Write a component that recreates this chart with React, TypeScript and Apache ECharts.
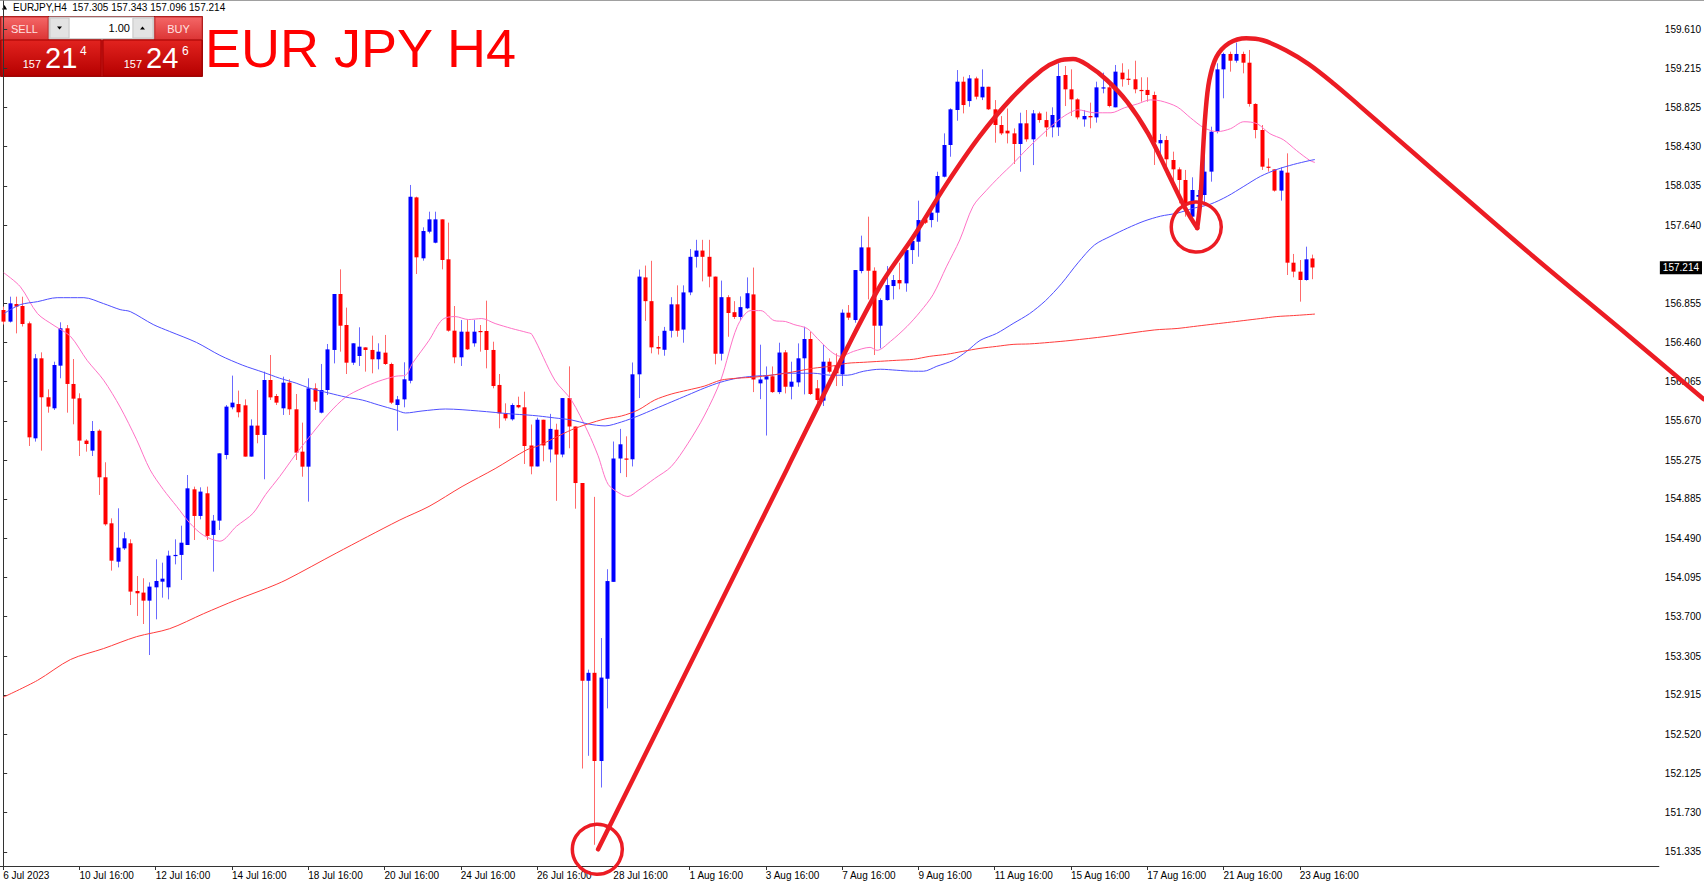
import React, { useEffect, useRef } from "react";
import * as echarts from "echarts";

const FONT = '"Liberation Sans", Arial, sans-serif';

// ---- axes ----
const slotCount = 261; // bar slots across the plot (data + empty right margin)
const labelStep = 12;
const xTickLabels = [
  "6 Jul 2023", "10 Jul 16:00", "12 Jul 16:00", "14 Jul 16:00", "18 Jul 16:00", "20 Jul 16:00",
  "24 Jul 16:00", "26 Jul 16:00", "28 Jul 16:00", "1 Aug 16:00", "3 Aug 16:00", "7 Aug 16:00",
  "9 Aug 16:00", "11 Aug 16:00", "15 Aug 16:00", "17 Aug 16:00", "21 Aug 16:00", "23 Aug 16:00",
];
const yTickValues = [
  159.61, 159.215, 158.825, 158.43, 158.035, 157.64, 156.855, 156.46, 156.065, 155.67, 155.275,
  154.885, 154.49, 154.095, 153.7, 153.305, 152.915, 152.52, 152.125, 151.73, 151.335,
];
const yMin = 151.1924;
const yMax = 159.8947;
const lastPrice = 157.214;
const headerText = "EURJPY,H4  157.305 157.343 157.096 157.214";

// ---- candles (H4) ----
const opens = [
  156.786,156.669,156.846,156.826,156.652,155.495,156.300,155.908,155.797,156.226,
  156.602,156.042,155.898,155.472,155.371,155.572,155.103,154.640,154.254,154.388,
  154.439,153.959,153.943,153.862,153.996,154.053,153.996,154.311,154.322,154.422,
  154.982,154.714,154.942,154.523,154.667,155.327,155.807,155.840,155.827,155.311,
  155.623,155.529,156.082,155.921,155.797,156.055,155.787,155.361,155.210,155.998,
  155.753,155.981,156.384,156.947,156.635,156.256,156.323,156.410,156.384,156.290,
  156.357,156.243,155.830,155.887,156.075,157.919,157.306,157.574,157.463,157.698,
  157.296,156.578,156.310,156.568,156.451,156.575,156.575,156.384,156.032,155.746,
  155.686,155.830,155.807,155.423,155.212,155.682,155.383,155.582,155.332,155.900,
  155.614,155.045,153.056,153.136,152.249,153.076,154.051,155.292,155.292,155.284,
  156.139,157.114,156.875,156.414,156.386,156.577,156.843,156.589,156.963,157.321,
  157.384,157.321,157.122,156.346,156.915,156.764,156.716,156.803,156.943,156.048,
  156.087,156.119,155.960,156.360,156.014,156.058,156.300,156.494,155.998,155.874,
  156.266,156.232,156.139,156.759,156.685,157.178,157.416,157.181,156.628,156.886,
  157.027,157.088,157.054,157.389,157.473,157.698,157.691,157.765,158.127,158.446,
  158.798,159.083,158.888,159.116,158.925,159.032,158.805,158.647,158.590,158.563,
  158.456,158.664,158.503,158.764,158.697,158.624,158.624,159.150,159.006,158.905,
  158.704,158.738,158.724,159.016,159.026,158.825,159.174,159.113,159.107,159.000,
  159.000,158.949,158.463,158.496,158.295,158.201,158.094,157.725,157.926,157.943,
  158.178,158.580,159.207,159.362,159.294,159.362,159.274,158.859,158.597,158.228,
  158.201,157.987,158.168,157.262,157.172,157.088,157.305,
];
const highs = [
  156.820,156.920,156.920,156.920,156.670,156.343,156.360,155.988,156.266,156.662,
  156.635,156.293,155.948,155.485,155.669,155.586,155.254,154.690,154.791,154.550,
  154.479,154.110,154.087,154.046,154.278,154.244,154.365,154.479,154.616,155.126,
  155.009,155.002,155.009,154.724,155.344,155.830,156.126,155.975,155.887,155.686,
  155.981,156.166,156.333,155.941,156.115,156.089,155.941,155.653,156.099,156.048,
  156.243,156.444,156.947,157.195,156.810,156.451,156.612,156.410,156.528,156.451,
  156.535,156.256,155.921,156.260,158.044,157.926,157.618,157.775,157.775,157.698,
  157.665,156.826,156.685,156.685,156.685,156.635,156.880,156.467,156.142,155.847,
  155.847,155.914,155.964,155.634,155.702,155.682,155.741,155.642,155.900,156.219,
  155.614,155.045,153.168,154.906,153.486,154.178,155.463,155.590,155.515,156.258,
  157.193,157.233,157.281,156.525,156.616,156.915,157.034,157.034,157.400,157.492,
  157.492,157.492,157.122,157.082,156.935,156.875,156.923,157.114,157.213,156.437,
  156.218,156.218,156.457,156.383,156.266,156.450,156.618,156.568,156.082,156.434,
  156.300,156.350,156.792,156.836,157.188,157.534,157.725,157.215,156.903,157.228,
  157.138,157.262,157.423,157.524,157.886,157.720,157.842,158.177,158.563,158.815,
  159.200,159.133,159.150,159.133,159.207,159.032,158.898,158.737,158.813,158.613,
  158.771,158.798,158.798,158.781,158.781,158.825,159.268,159.241,159.207,158.916,
  158.798,158.872,159.083,159.174,159.083,159.251,159.268,159.207,159.294,159.127,
  159.127,158.983,158.557,158.537,158.379,158.221,158.195,158.121,157.993,158.379,
  158.630,159.268,159.375,159.385,159.476,159.385,159.402,158.866,158.647,158.312,
  158.201,158.221,158.362,157.350,157.289,157.423,157.343,
];
const lows = [
  156.640,156.660,156.551,156.620,155.418,155.462,155.371,155.753,155.780,156.099,
  155.753,155.636,155.317,155.361,155.317,154.925,154.616,154.164,154.197,154.372,
  153.818,153.708,153.627,153.315,153.674,153.892,153.875,154.227,154.070,154.422,
  154.472,154.680,154.472,154.154,154.573,155.284,155.787,155.706,155.311,155.311,
  155.445,155.083,155.881,155.830,155.730,155.730,155.277,155.109,154.858,155.780,
  155.746,155.931,156.249,156.367,156.142,156.233,156.223,156.166,156.149,156.189,
  156.233,155.840,155.572,155.807,156.048,157.148,157.282,157.557,157.457,157.195,
  156.568,156.250,156.223,156.384,156.417,156.367,156.199,155.998,155.596,155.673,
  155.673,155.797,155.237,155.133,155.212,155.264,155.252,154.866,155.304,155.395,
  154.787,152.173,152.301,151.406,151.982,152.778,154.051,155.145,155.105,155.212,
  155.900,156.676,156.350,156.338,156.326,156.509,156.517,156.457,156.935,157.213,
  157.074,157.014,156.239,156.278,156.517,156.696,156.684,156.795,155.960,155.889,
  155.523,155.952,155.940,155.947,155.887,156.014,155.937,155.931,155.847,155.820,
  156.149,156.021,156.021,156.685,156.658,157.155,156.893,156.333,156.400,156.880,
  156.893,156.994,156.970,157.249,157.322,157.651,157.617,157.674,158.120,158.328,
  158.690,158.764,158.831,158.905,158.898,158.798,158.469,158.546,158.462,158.255,
  158.177,158.479,158.244,158.670,158.530,158.523,158.537,158.838,158.738,158.704,
  158.630,158.614,158.671,158.966,158.825,158.825,159.033,159.050,158.966,158.882,
  158.882,158.245,158.278,158.228,158.060,157.859,157.725,157.698,157.859,157.859,
  158.077,158.563,158.916,159.184,159.274,159.167,158.832,158.513,158.195,158.178,
  157.977,157.886,157.138,157.115,156.870,157.081,157.096,
];
const closes = [
  156.669,156.853,156.820,156.645,155.505,156.300,155.908,155.814,156.233,156.602,
  156.042,155.894,155.472,155.438,155.569,155.103,154.630,154.264,154.395,154.489,
  153.953,153.936,153.862,154.003,154.060,154.083,154.315,154.322,154.445,154.992,
  154.714,154.959,154.513,154.667,155.344,155.814,155.854,155.757,155.311,155.623,
  155.529,156.082,155.907,155.854,156.055,155.787,155.351,155.210,155.998,155.864,
  155.981,156.390,156.947,156.628,156.256,156.451,156.417,156.384,156.290,156.367,
  156.243,155.854,155.887,156.089,157.926,157.316,157.581,157.698,157.698,157.289,
  156.578,156.310,156.568,156.390,156.568,156.565,156.384,156.021,155.746,155.696,
  155.830,155.807,155.418,155.212,155.682,155.423,155.590,155.332,155.900,155.614,
  155.045,153.056,153.136,152.249,153.088,154.059,155.292,155.435,155.284,156.139,
  157.122,156.875,156.410,156.398,156.577,156.843,156.577,156.963,157.321,157.384,
  157.321,157.122,156.346,156.915,156.756,156.716,156.815,156.955,156.087,156.087,
  156.119,155.960,156.358,156.014,156.065,156.300,156.494,155.941,155.880,156.266,
  156.165,156.149,156.759,156.709,157.188,157.416,157.181,156.628,156.886,157.037,
  157.088,157.054,157.389,157.480,157.691,157.664,157.765,158.134,158.446,158.805,
  159.083,158.848,159.116,158.932,159.032,158.805,158.647,158.563,158.563,158.456,
  158.664,158.503,158.764,158.697,158.623,158.748,159.140,159.006,158.905,158.724,
  158.738,158.724,159.026,159.026,158.838,159.184,159.107,159.107,159.006,158.989,
  158.949,158.470,158.496,158.302,158.201,158.094,157.842,157.993,157.943,158.178,
  158.580,159.207,159.362,159.294,159.362,159.274,158.859,158.597,158.228,158.221,
  157.987,158.188,157.262,157.172,157.088,157.296,157.214,
];

// ---- moving averages: [bar position, price] ----
const maPink = [
  [0.1,157.16],[2.7,157.02],[5.4,156.75],[8.0,156.63],[10.6,156.52],[13.2,156.28],[15.8,156.08],
  [18.4,155.81],[21.0,155.48],[23.1,155.18],[25.2,154.98],[27.3,154.81],[29.4,154.64],[31.5,154.52],
  [34.1,154.46],[36.7,154.61],[39.3,154.74],[41.3,154.93],[43.5,155.11],[46.1,155.34],[48.7,155.55],
  [51.3,155.75],[53.9,155.91],[56.5,156.00],[59.1,156.07],[61.8,156.12],[63.3,156.13],[64.4,156.25],
  [67.0,156.48],[69.1,156.69],[71.1,156.72],[73.2,156.69],[75.3,156.70],[77.4,156.65],[80.0,156.60],
  [82.4,156.56],[83.2,156.54],[86.8,156.08],[89.4,155.88],[92.0,155.56],[93.6,155.32],[95.2,155.03],
  [97.3,154.93],[98.3,154.91],[99.9,154.97],[102.5,155.09],[105.1,155.21],[107.7,155.44],[110.3,155.72],
  [112.9,156.08],[115.5,156.62],[117.6,156.78],[119.2,156.78],[121.3,156.68],[123.1,156.67],
  [124.4,156.64],[126.5,156.60],[128.1,156.50],[130.2,156.37],[131.7,156.32],[133.8,156.37],
  [136.4,156.41],[137.5,156.38],[139.6,156.47],[142.2,156.62],[144.3,156.77],[146.3,156.94],
  [148.4,157.22],[150.5,157.49],[152.6,157.83],[154.7,157.99],[156.8,158.13],[158.9,158.26],
  [161.0,158.40],[163.1,158.53],[165.0,158.64],[167.0,158.74],[169.1,158.80],[171.7,158.77],
  [174.3,158.77],[176.4,158.82],[178.5,158.86],[180.5,158.90],[182.1,158.89],[184.7,158.83],
  [186.8,158.72],[188.9,158.62],[191.0,158.58],[193.1,158.61],[195.2,158.68],[197.3,158.66],
  [199.3,158.56],[201.4,158.50],[203.5,158.39],[205.6,158.29],[206.4,158.27],
];
const maBlue = [
  [0.1,156.75],[2.7,156.84],[5.4,156.87],[8.5,156.91],[12.7,156.91],[15.8,156.85],[18.4,156.79],
  [20.0,156.77],[23.6,156.64],[26.2,156.57],[30.4,156.46],[34.1,156.33],[37.7,156.23],[40.9,156.16],
  [43.5,156.10],[46.1,156.05],[48.2,156.00],[51.3,155.95],[53.9,155.91],[56.5,155.88],[59.1,155.83],
  [61.8,155.78],[63.3,155.75],[65.9,155.77],[69.6,155.79],[74.8,155.77],[80.0,155.74],[82.4,155.73],
  [84.2,155.72],[86.8,155.70],[89.4,155.68],[92.0,155.64],[94.7,155.62],[97.3,155.66],[99.9,155.72],
  [102.5,155.79],[105.1,155.86],[107.7,155.93],[110.3,156.00],[112.9,156.06],[115.5,156.10],
  [118.1,156.12],[120.8,156.13],[123.1,156.15],[124.9,156.15],[127.5,156.15],[130.2,156.13],
  [132.8,156.13],[135.4,156.17],[138.0,156.19],[140.6,156.18],[143.2,156.17],[144.8,156.17],
  [146.9,156.22],[149.5,156.28],[151.6,156.37],[153.7,156.48],[156.3,156.55],[158.9,156.65],
  [161.5,156.75],[164.0,156.88],[166.5,157.05],[169.1,157.26],[171.7,157.44],[174.3,157.53],
  [176.9,157.61],[179.5,157.68],[182.1,157.73],[184.7,157.76],[187.3,157.81],[189.9,157.85],
  [192.6,157.93],[195.2,158.03],[197.8,158.13],[200.4,158.20],[203.0,158.25],[205.6,158.29],
  [206.4,158.30],
];
const maRed = [
  [0,152.89],[5.4,153.06],[10.6,153.27],[15.8,153.38],[21.0,153.50],[26.2,153.58],[31.5,153.73],
  [36.7,153.87],[41.6,153.99],[44.5,154.07],[52.4,154.34],[62.3,154.67],[67.0,154.81],[72.2,155.01],
  [77.4,155.19],[82.4,155.38],[84.2,155.42],[86.8,155.50],[89.4,155.58],[92.0,155.64],[94.7,155.69],
  [97.3,155.72],[99.9,155.78],[102.5,155.88],[105.1,155.94],[107.7,155.98],[110.3,156.02],
  [112.9,156.08],[115.5,156.10],[118.1,156.11],[120.8,156.13],[123.1,156.15],[127.5,156.20],
  [130.2,156.22],[132.8,156.25],[135.4,156.26],[138.0,156.27],[140.6,156.28],[143.2,156.29],
  [145.8,156.32],[148.4,156.34],[151.0,156.37],[153.7,156.40],[156.3,156.42],[158.9,156.44],
  [161.5,156.445],[164.6,156.46],[168.0,156.48],[173.5,156.52],[181.1,156.585],[184.7,156.60],
  [187.3,156.62],[189.9,156.64],[192.6,156.66],[195.2,156.68],[197.8,156.70],[200.4,156.72],
  [203.0,156.73],[206.4,156.745],
];

// ---- hand-drawn annotation: [bar position, price] ----
const annotationRise = [
  [93.42,151.36],[123.11,155.19],[132.66,156.42],[138.0,157.06],[143.0,157.53],[148.2,158.06],
  [153.3,158.53],[158.4,158.92],[163.1,159.20],[165.6,159.29],[168.0,159.31],[170.5,159.24],
  [173.3,159.10],[176.5,158.88],[179.8,158.56],[183.0,158.15],[185.7,157.80],[187.5,157.61],
];
const annotationFall = [
  [187.5,157.61],[188.0,157.89],[188.3,158.26],[188.8,158.77],[189.4,159.10],[190.5,159.33],
  [192.5,159.47],[195.2,159.52],[197.8,159.50],[201.4,159.40],[205.0,159.26],[209.0,159.06],
  [213.0,158.84],[218.0,158.56],[225.0,158.17],[240.0,157.34],[255.0,156.54],[267.0,155.89],
];
const annotationCircles = [[93.3,151.36],[187.35,157.62]];

// H4 bar times (weekdays only)
function buildBarTimes(count: number): string[] {
  const out: string[] = [];
  let t = Date.UTC(2023, 6, 6, 16);
  while (out.length < count) {
    const d = new Date(t);
    const day = d.getUTCDay();
    if (day !== 0 && day !== 6) {
      const pad = (n: number) => String(n).padStart(2, "0");
      out.push(`${d.getUTCFullYear()}.${pad(d.getUTCMonth() + 1)}.${pad(d.getUTCDate())} ${pad(d.getUTCHours())}:00`);
    }
    t += 4 * 3600 * 1000;
  }
  return out;
}

const ANNOT = "#ec1c24";
// plot geometry (px)
const GRID_LEFT = -4;
const GRID_RIGHT = 42;
const GRID_TOP = 1;
const GRID_BOTTOM = 17;
const CHART_W = 1704;
const plotW = CHART_W - GRID_LEFT - GRID_RIGHT;
const fullW = CHART_W - GRID_LEFT;
// overlay grid spans the full width with the same bar scale
const overlayMax = -0.5 + (fullW * slotCount) / plotW;

function renderCandle(params: any, api: any) {
  const idx = api.value(0);
  const o = api.value(1);
  const c = api.value(2);
  const l = api.value(3);
  const h = api.value(4);
  const pO = api.coord([idx, o]);
  const pC = api.coord([idx, c]);
  const pL = api.coord([idx, l]);
  const pH = api.coord([idx, h]);
  const bull = c > o;
  const x = Math.round(pO[0]);
  const top = Math.min(pO[1], pC[1]);
  const hgt = Math.max(1.2, Math.abs(pO[1] - pC[1]));
  return {
    type: "group",
    children: [
      {
        type: "line",
        shape: { x1: x + 0.5, y1: pH[1], x2: x + 0.5, y2: pL[1] },
        style: { stroke: bull ? "#6a6aff" : "#ff6a6a", lineWidth: 1 },
      },
      {
        type: "rect",
        shape: { x: x - 1.5, y: top, width: 4, height: hgt },
        style: { fill: bull ? "#0000ff" : "#ff0000" },
      },
    ],
  };
}

function buildGraphics() {
  const btnFill = {
    type: "linear", x: 0, y: 0, x2: 0, y2: 1,
    colorStops: [{ offset: 0, color: "#f46767" }, { offset: 1, color: "#dc3434" }],
  };
  const priceFill = {
    type: "linear", x: 0, y: 0, x2: 0, y2: 1,
    colorStops: [{ offset: 0, color: "#e2231f" }, { offset: 1, color: "#b50000" }],
  };
  const txt = (text: string, x: number, y: number, size: number, fill: string, align = "left") => ({
    type: "text",
    style: { text, x, y, fill, align, verticalAlign: "middle", font: `${size}px ${FONT}` },
  });
  return [
    { type: "line", shape: { x1: 0, y1: 0.5, x2: 1704, y2: 0.5 }, style: { stroke: "#a0a0a0", lineWidth: 1 } },
    { type: "polygon", shape: { points: [[2, 9.5], [4.5, 5], [7, 9.5]] }, style: { fill: "#000" } },
    txt(headerText, 13, 7.5, 10, "#000"),
    // one-click trading panel
    { type: "rect", shape: { x: 0.5, y: 16.5, width: 202, height: 60 }, style: { fill: "#c81818", stroke: "#9a0e0e", lineWidth: 1 } },
    { type: "rect", shape: { x: 1, y: 17, width: 47, height: 23 }, style: { fill: btnFill, stroke: "#c83030", lineWidth: 1 } },
    txt("SELL", 24.5, 28.5, 11, "#ffe2e2", "center"),
    { type: "rect", shape: { x: 49, y: 17, width: 105, height: 22 }, style: { fill: "#efefef", stroke: "#b4b4b4", lineWidth: 1 } },
    { type: "rect", shape: { x: 50, y: 18, width: 19, height: 20 }, style: { fill: "#e3e3e3", stroke: "#c9c9c9", lineWidth: 1 } },
    { type: "polygon", shape: { points: [[57, 26.5], [62, 26.5], [59.5, 29.5]] }, style: { fill: "#000" } },
    { type: "rect", shape: { x: 70, y: 18, width: 62, height: 20 }, style: { fill: "#ffffff" } },
    txt("1.00", 130, 28, 11, "#000", "right"),
    { type: "rect", shape: { x: 133, y: 18, width: 20, height: 20 }, style: { fill: "#e3e3e3", stroke: "#c9c9c9", lineWidth: 1 } },
    { type: "polygon", shape: { points: [[140, 29.5], [145, 29.5], [142.5, 26.5]] }, style: { fill: "#000" } },
    { type: "rect", shape: { x: 155, y: 17, width: 47, height: 23 }, style: { fill: btnFill, stroke: "#c83030", lineWidth: 1 } },
    txt("BUY", 178.5, 28.5, 11, "#ffe2e2", "center"),
    { type: "rect", shape: { x: 1, y: 40, width: 100, height: 36 }, style: { fill: priceFill, stroke: "#a30000", lineWidth: 1 } },
    { type: "rect", shape: { x: 103, y: 40, width: 99, height: 36 }, style: { fill: priceFill, stroke: "#a30000", lineWidth: 1 } },
    txt("157", 41, 64, 11, "#ffffff", "right"),
    txt("21", 45, 57.5, 29, "#ffffff"),
    txt("4", 80, 50.5, 12, "#ffffff"),
    txt("157", 142, 64, 11, "#ffffff", "right"),
    txt("24", 146, 57.5, 29, "#ffffff"),
    txt("6", 182, 50.5, 12, "#ffffff"),
    // title
    txt("EUR JPY H4", 205, 48, 54, "#ff0000"),
  ];
}

export default function App() {
  const ref = useRef<HTMLDivElement>(null);

  useEffect(() => {
    document.body.style.margin = "0";
    if (!ref.current) return;
    const chart = echarts.init(ref.current, null, { renderer: "svg" });
    const categories = buildBarTimes(slotCount);
    const candleRows = opens.map((o, i) => [i, o, closes[i], lows[i], highs[i]]);
    const isLabelSlot = (index: number) => index % labelStep === 0 && index / labelStep < xTickLabels.length;

    const maLine = (name: string, data: number[][], color: string, extra: any = {}) => ({
      type: "line",
      name,
      xAxisIndex: 1,
      yAxisIndex: 0,
      data,
      smooth: 0.3,
      symbol: "none",
      silent: true,
      lineStyle: { color, width: 1 },
      z: 3,
      ...extra,
    });
    const annotLine = (name: string, data: number[][], smooth: number) => ({
      type: "line",
      name,
      xAxisIndex: 2,
      yAxisIndex: 1,
      data,
      smooth,
      symbol: "none",
      clip: false,
      silent: true,
      lineStyle: { color: ANNOT, width: 4.5, cap: "round", join: "round" },
      z: 6,
    });

    chart.setOption({
      animation: false,
      backgroundColor: "#ffffff",
      textStyle: { fontFamily: FONT },
      grid: [
        { left: GRID_LEFT, right: GRID_RIGHT, top: GRID_TOP, bottom: GRID_BOTTOM, containLabel: false },
        { left: GRID_LEFT, right: 0, top: GRID_TOP, bottom: GRID_BOTTOM, containLabel: false },
      ],
      xAxis: [
        {
          type: "category",
          gridIndex: 0,
          data: categories,
          boundaryGap: true,
          axisLine: { show: true, lineStyle: { color: "#333", width: 1 } },
          axisTick: {
            show: true,
            alignWithLabel: true,
            length: 4,
            interval: (index: number) => isLabelSlot(index),
            lineStyle: { color: "#333" },
          },
          axisLabel: {
            show: true,
            interval: (index: number) => isLabelSlot(index),
            formatter: (_v: string, index: number) => xTickLabels[Math.floor(index / labelStep)] ?? "",
            align: "left",
            margin: 4,
            fontSize: 10,
            fontFamily: FONT,
            color: "#000",
          },
          splitLine: { show: false },
        },
        { type: "value", gridIndex: 0, min: -0.5, max: slotCount - 0.5, show: false },
        { type: "value", gridIndex: 1, min: -0.5, max: overlayMax, show: false },
      ],
      yAxis: [
        {
          type: "value",
          gridIndex: 0,
          position: "right",
          min: yMin,
          max: yMax,
          axisLine: { show: true, lineStyle: { color: "#333", width: 1 } },
          axisTick: { show: true, length: 4, customValues: yTickValues, lineStyle: { color: "#333" } },
          axisLabel: {
            show: true,
            customValues: yTickValues,
            formatter: (v: number) => v.toFixed(3),
            margin: 6,
            fontSize: 10,
            fontFamily: FONT,
            color: "#000",
          },
          splitLine: { show: false },
        },
        { type: "value", gridIndex: 1, min: yMin, max: yMax, show: false },
      ],
      series: [
        {
          type: "custom",
          name: "EURJPY,H4",
          xAxisIndex: 0,
          yAxisIndex: 0,
          renderItem: renderCandle,
          data: candleRows,
          encode: { x: 0, y: [1, 2, 3, 4] },
          silent: true,
          z: 2,
        },
        maLine("MA fast", maPink, "#ff72c6"),
        maLine("MA mid", maBlue, "#4f4fff"),
        maLine("MA slow", maRed, "#ff3c3c", {
          markLine: {
            silent: true,
            symbol: ["none", "none"],
            animation: false,
            data: [{ yAxis: lastPrice }],
            lineStyle: { color: "rgba(0,0,0,0)", width: 1 },
            label: {
              show: true,
              position: "end",
              distance: 1,
              formatter: lastPrice.toFixed(3),
              color: "#ffffff",
              backgroundColor: "#000000",
              padding: [2, 3, 1, 3],
              fontSize: 10,
              fontFamily: FONT,
            },
          },
        }),
        annotLine("annotation-rise", annotationRise, 0.35),
        annotLine("annotation-fall", annotationFall, 0.35),
        {
          type: "scatter",
          name: "annotation-circles",
          xAxisIndex: 2,
          yAxisIndex: 1,
          data: annotationCircles,
          symbol: "circle",
          symbolSize: 50,
          clip: false,
          silent: true,
          itemStyle: { color: "rgba(0,0,0,0)", borderColor: ANNOT, borderWidth: 3.5, opacity: 1 },
          z: 6,
        },
      ],
      graphic: buildGraphics(),
    });

    return () => chart.dispose();
  }, []);

  return <div ref={ref} style={{ width: 1704, height: 883, background: "#fff" }} />;
}
